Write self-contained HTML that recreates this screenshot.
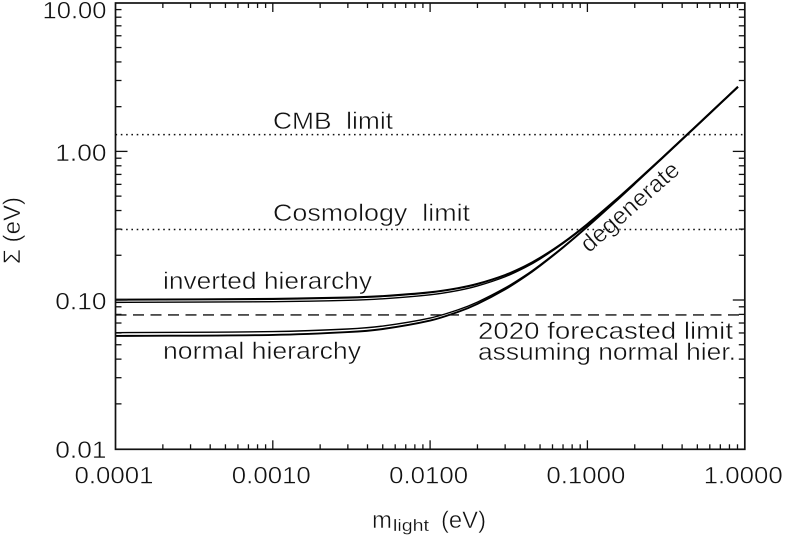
<!DOCTYPE html>
<html>
<head>
<meta charset="utf-8">
<title>Sum of neutrino masses chart</title>
<style>
html,body{margin:0;padding:0;background:#fff;width:786px;height:536px;overflow:hidden}
svg{display:block}
text{font-family:"Liberation Sans",sans-serif;fill:#111;stroke:#fff;stroke-width:.45px;paint-order:fill stroke}
</style>
</head>
<body>
<svg id="chart" width="786" height="536" viewBox="0 0 786 536" xmlns="http://www.w3.org/2000/svg">
<g id="curves"></g>
<g id="limits"></g>
<g id="axes"></g>
<text x="273" y="129" font-size="24" textLength="120" lengthAdjust="spacingAndGlyphs" xml:space="preserve">CMB  limit</text>
<text x="273" y="221" font-size="24" textLength="197" lengthAdjust="spacingAndGlyphs" xml:space="preserve">Cosmology  limit</text>
<text x="163" y="289" font-size="24" textLength="209" lengthAdjust="spacingAndGlyphs">inverted hierarchy</text>
<text x="163" y="359" font-size="24" textLength="198" lengthAdjust="spacingAndGlyphs">normal hierarchy</text>
<text x="478" y="339" font-size="24" textLength="255" lengthAdjust="spacingAndGlyphs">2020 forecasted limit</text>
<text x="478" y="360" font-size="24" textLength="258" lengthAdjust="spacingAndGlyphs">assuming normal hier.</text>
<text transform="translate(589 253.5) rotate(-41.5)" font-size="24" textLength="123" lengthAdjust="spacingAndGlyphs">degenerate</text>
<text y="528"><tspan x="372" font-size="24" textLength="20" lengthAdjust="spacingAndGlyphs">m</tspan><tspan x="393" y="531" font-size="17" textLength="36" lengthAdjust="spacingAndGlyphs" style="stroke-width:.2px">light</tspan><tspan x="441" y="528" font-size="24" textLength="45" lengthAdjust="spacingAndGlyphs">(eV)</tspan></text>
<text transform="translate(20 264) rotate(-90)" font-size="24" textLength="67" lengthAdjust="spacingAndGlyphs" xml:space="preserve" style="font-family:'Liberation Sans','DejaVu Sans',sans-serif">Σ (eV)</text>
</svg>
<script>
const masses = [0.0001,0.001,0.003,0.005,0.01,0.015,0.02,0.03,0.04,0.05,0.07,0.1,0.15,0.2,0.3,0.5,0.7,0.906];
const normalLower = [0.0573,0.0582,0.0608,0.0638,0.0727,0.0830,0.0941,0.1180,0.1434,0.1701,0.2255,0.3113,0.4578,0.6059,0.9039,1.5025,2.1018,2.72];
const normalUpper = [0.0603,0.0613,0.0638,0.0668,0.0756,0.0858,0.0968,0.1206,0.1457,0.1723,0.2272,0.3126,0.4588,0.6065,0.9045,1.5030,2.1022,2.72];
const invertedLower = [0.0964,0.0974,0.0995,0.1019,0.1084,0.1158,0.1243,0.1434,0.1651,0.1888,0.2401,0.3221,0.4650,0.6115,0.9078,1.5047,2.1034,2.72];
const invertedUpper = [0.1005,0.1017,0.1039,0.1062,0.1126,0.1200,0.1283,0.1472,0.1685,0.1919,0.2426,0.3240,0.4668,0.6128,0.9085,1.5050,2.1040,2.72];
const cmbLimit = [1.297];
const cosmologyLimit = [0.298];
const forecastLimit = [0.0793];
const xTickValues = [0.0001,0.001,0.01,0.1,1];
const xTickLabels = ["0.0001","0.0010","0.0100","0.1000","1.0000"];
const yTickValues = [0.01,0.1,1,10];
const yTickLabels = ["0.01","0.10","1.00","10.00"];

const NS = "http://www.w3.org/2000/svg";
const LEFT = 115.5, RIGHT = 744.8, TOP = 3, BOTTOM = 449.3;
const xOf = v => LEFT + 157.3 * (Math.log10(v) + 4);
const yOf = v => 300 - 148.6 * (Math.log10(v) + 1);
const INK = "#111";

function make(tag, parent, attrs) {
  const el = document.createElementNS(NS, tag);
  for (const k in attrs) el.setAttribute(k, attrs[k]);
  parent.appendChild(el);
  return el;
}

function curvePath(xs, ys) {
  const p = xs.map((m, i) => [xOf(m), yOf(ys[i])]);
  let d = "M" + p[0][0].toFixed(2) + " " + p[0][1].toFixed(2);
  for (let i = 0; i < p.length - 1; i++) {
    const a = p[Math.max(i - 1, 0)], b = p[i], c = p[i + 1], e = p[Math.min(i + 2, p.length - 1)];
    const t = (c[0] - b[0]) / 3;
    const s1 = (c[1] - a[1]) / (c[0] - a[0]);
    const s2 = (e[1] - b[1]) / (e[0] - b[0]);
    d += "C" + (b[0] + t).toFixed(2) + " " + (b[1] + s1 * t).toFixed(2) + " " +
         (c[0] - t).toFixed(2) + " " + (c[1] - s2 * t).toFixed(2) + " " +
         c[0].toFixed(2) + " " + c[1].toFixed(2);
  }
  return d;
}

const curves = document.getElementById("curves");
const limits = document.getElementById("limits");
const axes = document.getElementById("axes");

function addCurve(values, width, name) {
  const el = make("path", curves, {d: curvePath(masses, values), fill: "none", stroke: "#000", "stroke-width": width});
  
  
}
addCurve(invertedUpper, 2.1, "inverted-hierarchy-upper-curve");
addCurve(invertedLower, 1.4, "inverted-hierarchy-lower-curve");
addCurve(normalUpper, 1.4, "normal-hierarchy-upper-curve");
addCurve(normalLower, 1.9, "normal-hierarchy-lower-curve");

function addLimit(value, dash, name) {
  const y = yOf(value);
  const el = make("line", limits, {x1: LEFT, x2: RIGHT, y1: y, y2: y, stroke: INK, "stroke-width": dash === "1.6 3.7" ? 1.5 : 1.4, "stroke-dasharray": dash});
  
  
}
addLimit(cmbLimit[0], "1.6 3.7", "cmb-limit-line");
addLimit(cosmologyLimit[0], "1.6 3.7", "cosmology-limit-line");
addLimit(forecastLimit[0], "11 6.5", "forecast-limit-line");

const frame = make("rect", axes, {x: LEFT, y: TOP, width: RIGHT - LEFT, height: BOTTOM - TOP, fill: "none", stroke: INK, "stroke-width": 1.7});



function tick(x1, y1, x2, y2, name) {
  const el = make("line", axes, {x1: x1, y1: y1, x2: x2, y2: y2, stroke: INK, "stroke-width": 1.3});
  
  
}

xTickValues.forEach((v, i) => {
  const x = xOf(v);
  if (i > 0 && i < xTickValues.length - 1) {
    tick(x, BOTTOM, x, BOTTOM - 9, "x-major-tick");
    tick(x, TOP, x, TOP + 9, "x-major-tick-top");
  }
  if (i < xTickValues.length - 1) {
    for (let k = 2; k < 10; k++) {
      const xm = xOf(v * k);
      tick(xm, BOTTOM, xm, BOTTOM - 5, "x-minor-tick");
      tick(xm, TOP, xm, TOP + 5, "x-minor-tick-top");
    }
  }
});

yTickValues.forEach((v, i) => {
  const y = yOf(v);
  if (i > 0 && i < yTickValues.length - 1) {
    tick(LEFT, y, LEFT + 12, y, "y-major-tick");
    tick(RIGHT, y, RIGHT - 12, y, "y-major-tick-right");
  }
  if (i < yTickValues.length - 1) {
    for (let k = 2; k < 10; k++) {
      const ym = yOf(v * k);
      tick(LEFT, ym, LEFT + 6, ym, "y-minor-tick");
      tick(RIGHT, ym, RIGHT - 6, ym, "y-minor-tick-right");
    }
  }
});

xTickLabels.forEach((label, i) => {
  const el = make("text", axes, {x: xOf(xTickValues[i]) - 41, y: 483.5, "font-size": 24, textLength: 79, lengthAdjust: "spacingAndGlyphs"});
  el.textContent = label;
  
  
});

yTickLabels.forEach((label, i) => {
  const v = yTickValues[i];
  const el = make("text", axes, {x: 106.5 - label.length * 12.8, y: yOf(v) + (v === 10 ? 15.5 : 9.5), "font-size": 24, textLength: label.length * 12.8, lengthAdjust: "spacingAndGlyphs"});
  el.textContent = label;
  
  
});
</script>
</body>
</html>
